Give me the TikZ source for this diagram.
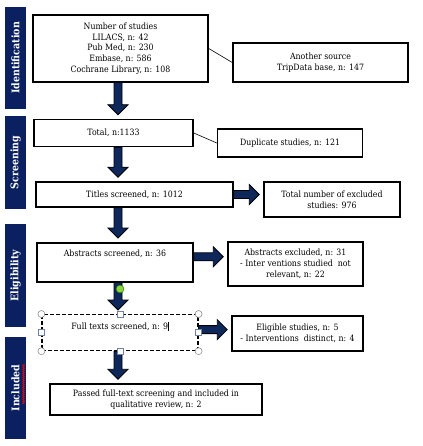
\documentclass[tikz,border=0pt]{standalone}
\usepackage{fontspec}
\setmainfont{DejaVu Serif}[FakeStretch=0.9]
\usetikzlibrary{calc,decorations.pathmorphing}
\definecolor{navybar}{RGB}{10,32,96}
\definecolor{navyarrow}{RGB}{14,40,92}
\definecolor{handleblue}{RGB}{110,130,165}
\definecolor{handlegreen}{RGB}{140,210,60}
\tikzset{
	box/.style={draw, line width=1.5pt, align=center, inner sep=0pt, font=\fontsize{8.7}{10.8}\selectfont},
	bar/.style={fill=navybar, text=white, rotate=90, inner sep=0pt, minimum height=21pt, font=\bfseries\fontsize{10.5}{12}\selectfont},
	fatarrow/.style={draw=black, line width=0.8pt, fill=navyarrow, line join=miter},
	corner handle/.style={draw=gray, fill=white, line width=0.5pt},
	side handle/.style={draw=handleblue, fill=white, line width=0.5pt},
}
% thick arrow from #1 to #2, tip stops 4pt short
\newcommand{\fatarrow}[2]{%
	\draw[fatarrow] let \p1=#1, \p2=#2, \n1={atan2(\y2-\y1,\x2-\x1)}, \n2={veclen(\x2-\x1,\y2-\y1)-4} in
		[shift={(\p1)}, rotate=\n1] (0,-4) -- (\n2-10,-4) -- (\n2-10,-10) -- (\n2,0) -- (\n2-10,10) -- (\n2-10,4) -- (0,4) -- cycle;}
\begin{document}
\begin{tikzpicture}[x=1pt, y=-1pt]
		\useasboundingbox (0,0) rectangle (422,446);
		\coordinate (col) at (118,0);
		% phase bars
		\node[bar, minimum width=102pt] (ident) at (15.5,58) {Identification};
		\node[bar, minimum width=93pt] (screen) at (15.5,162.5) {Screening};
		\node[bar, minimum width=103pt] (elig) at (15.5,275.5) {Eligibility};
		\node[bar, minimum width=102pt] (incl) at (15.5,388) {Included};
		\draw[red, line width=0.5pt, decorate, decoration={zigzag, amplitude=0.8pt, segment length=2pt}] (23.5,364) -- (23.5,404);
		% boxes
		\node[box, minimum width=175pt, minimum height=67pt] (studies) at (120.5,48.5) {Number of studies\\LILACS, n: 42\\Pub Med, n: 230\\Embase, n: 586\\Cochrane Library, n: 108};
		\node[box, minimum width=175pt, minimum height=39pt] (other) at (320.5,62.5) {Another source\\TripData base, n: 147};
		\node[box, minimum width=159pt, minimum height=27pt] (total) at (113.5,133) {Total, n:1133};
		\node[box, minimum width=145pt, minimum height=28pt] (dupl) at (290,143) {Duplicate studies, n: 121};
		\node[box, minimum width=197pt, minimum height=25pt] (titles) at (134.5,194.5) {Titles screened, n: 1012};
		\node[box, minimum width=136pt, minimum height=35pt] (excl) at (332,199.5) {Total number of excluded\\studies: 976};
		\node[box, minimum width=156pt, text height=14pt, text depth=25pt, anchor=north] (abstr) at (115,242) {Abstracts screened, n: 36};
		\node[box, minimum width=135pt, minimum height=44pt] (abexcl) at (295.5,264) {Abstracts excluded, n: 31\\- Inter ventions studied\ \ not\\relevant, n: 22};
		\node[box, dashed, dash pattern=on 4pt off 2pt, line width=1.2pt, minimum width=156pt, text height=15pt, text depth=21pt, anchor=north] (full) at (120,314) {Full texts screened, n: 9\rule[-1pt]{0.5pt}{9pt}};
		\node[box, minimum width=131pt, minimum height=35pt] (eligible) at (297.5,333.5) {Eligible studies, n: 5\\- Interventions\ \ distinct, n: 4};
		\node[box, minimum width=212pt, minimum height=31pt] (passed) at (156,399.5) {Passed full-text screening and included in\\qualitative review, n: 2};
		% connectors
		\draw[line width=0.6pt] (studies.east) -- (other.west);
		\draw[line width=0.6pt] (total.east) -- (dupl.west);
		\fatarrow{(studies.south -| col)}{(total.north -| col)}
		\fatarrow{(total.south -| col)}{(titles.north -| col)}
		\fatarrow{(titles.south -| col)}{(abstr.north -| col)}
		\fatarrow{(abstr.south -| col)}{(full.north -| col)}
		\fatarrow{(full.south -| col)}{(passed.north -| col)}
		\fatarrow{(titles.east)}{(titles.east -| excl.west)}
		\fatarrow{(abstr.base east)}{(abstr.base east -| abexcl.west)}
		\fatarrow{(full.base east)}{(full.base east -| eligible.west)}
		% selection handles
		\foreach \c in {north west, north east, south west, south east}
			\draw[corner handle] (full.\c) circle (3.5);
		\foreach \c in {north, south, west, east}
			\draw[side handle] ($(full.\c)+(-3,-3)$) rectangle ++(6,6);
		\draw[fill=handlegreen, draw=green!40!black, line width=0.4pt] (120,289) circle (4);
\end{tikzpicture}
\end{document}
